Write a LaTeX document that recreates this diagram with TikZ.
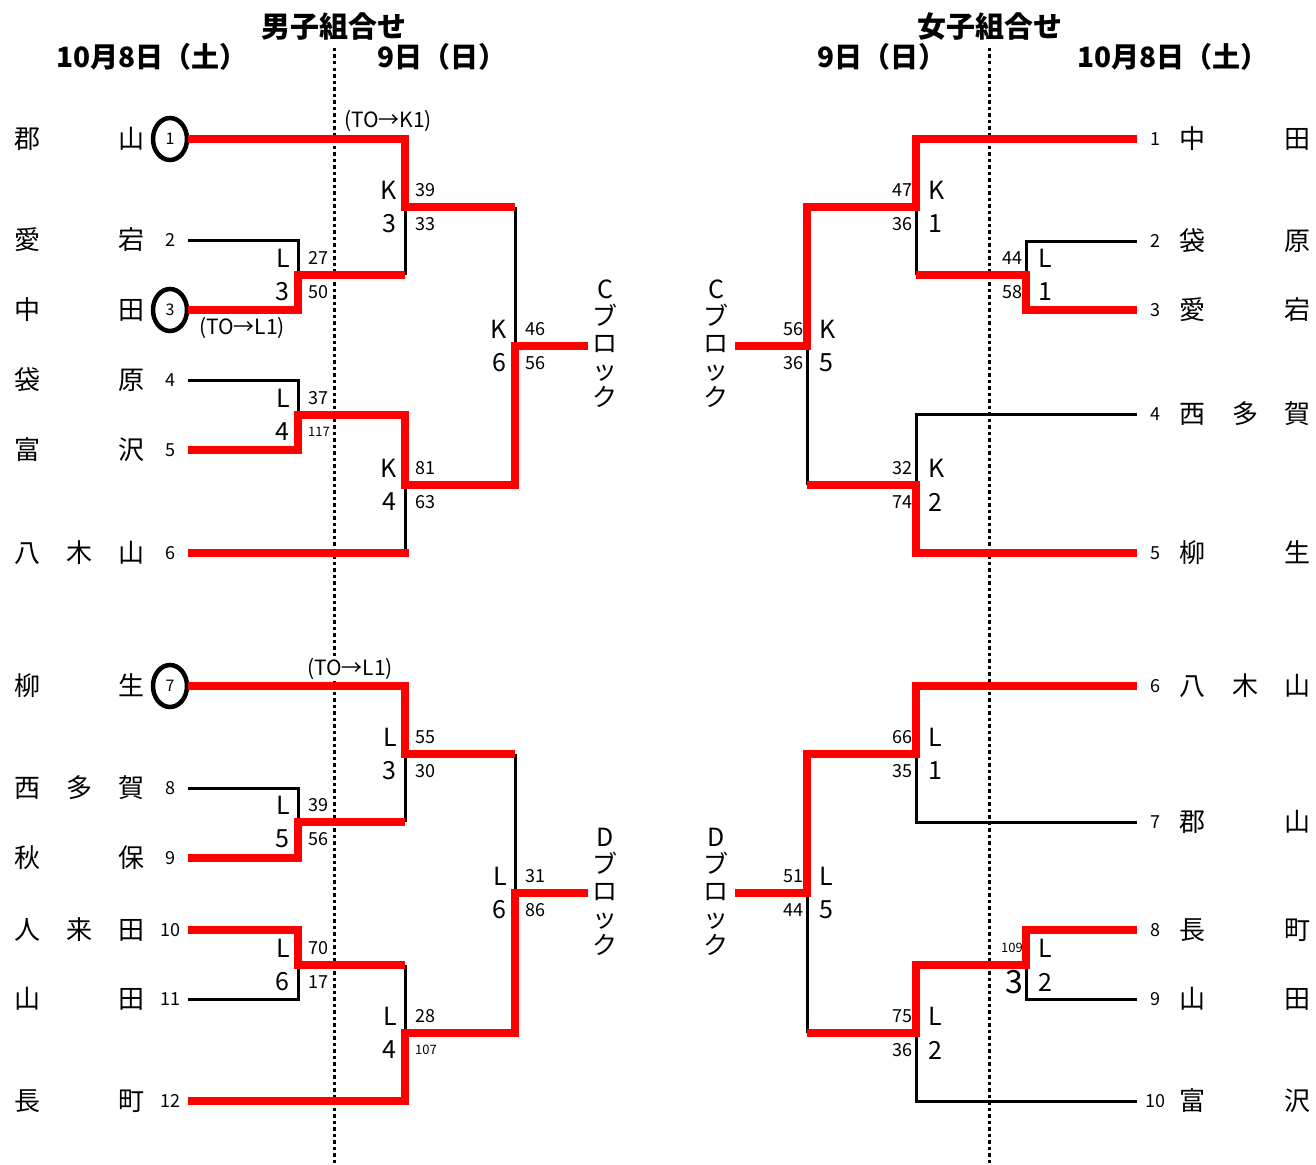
\documentclass[tikz,border=0pt]{standalone}
\usepackage{fontspec}
\setmainfont{Noto Sans CJK JP}
\usetikzlibrary{shapes.geometric}

% labels of one match: boys put letter/number left, scores right
\newcommand{\bmatch}[5]{%
  \node[tag, anchor=east] (#1-t) at ([xshift=-8pt, yshift=17pt]#1) {#2};
  \node[tag, anchor=east] (#1-n) at ([xshift=-8pt, yshift=-17pt]#1) {#3};
  \node[score, anchor=west] (#1-s) at ([xshift=10pt, yshift=17pt]#1) {#4};
  \node[score, anchor=west] (#1-r) at ([xshift=10pt, yshift=-17pt]#1) {#5};}
% girls: scores left, letter/number right
\newcommand{\gmatch}[5]{%
  \node[score, anchor=east] (#1-s) at ([xshift=-3pt, yshift=17pt]#1) {#2};
  \node[score, anchor=east] (#1-r) at ([xshift=-3pt, yshift=-17pt]#1) {#3};
  \node[tag, anchor=west] (#1-t) at ([xshift=12pt, yshift=17pt]#1) {#4};
  \node[tag, anchor=west] (#1-n) at ([xshift=12pt, yshift=-17pt]#1) {#5};}

\begin{document}
\begin{tikzpicture}[
        x=1pt, y=-1pt,
        won/.style={draw=red, line width=7.5pt},
        lost/.style={draw=black, line width=3pt},
        daysep/.style={line width=3pt, dash pattern=on 3.5pt off 3pt},
        team/.style={font=\fontsize{26}{26}\selectfont, inner sep=0pt},
        seed/.style={font=\fontsize{18}{18}\selectfont, inner sep=0pt},
        ring/.style={draw, ellipse, line width=4.5pt, minimum width=34pt,
            minimum height=42pt, font=\fontsize{16}{16}\selectfont},
        noring/.style={},
        tag/.style={font=\fontsize{25}{25}\selectfont, inner sep=0pt},
        score/.style={font=\fontsize{18}{18}\selectfont, inner sep=0pt},
        note/.style={font=\fontsize{21}{21}\selectfont, inner sep=1pt},
        block/.style={font=\fontsize{25}{27}\selectfont, align=center, inner sep=0pt},
        head/.style={font=\bfseries\fontsize{29}{29}\selectfont, inner sep=0pt},
        day/.style={font=\bfseries\fontsize{28}{28}\selectfont, inner sep=0pt},
    ]
    \useasboundingbox (0,0) rectangle (1316,1164);

    % headings
    \node[head] (btitle) at (334,27) {男子組合せ};
    \node[day] (bsat) at (152,57) {10月8日（土）};
    \node[day] (bsun) at (442,57) {9日（日）};
    \node[head] (gtitle) at (990,27) {女子組合せ};
    \node[day] (gsun) at (882,57) {9日（日）};
    \node[day] (gsat) at (1173,57) {10月8日（土）};

    \draw[daysep] (334,48) -- (334,1164);
    \draw[daysep] (989,48) -- (989,1164);

    % boys teams
    \foreach \y/\a/\n/\s in {139/郡\hfill 山/1/ring, 240/愛\hfill 宕/2/noring,
        310/中\hfill 田/3/ring, 380/袋\hfill 原/4/noring, 450/富\hfill 沢/5/noring,
        553/八\hfill 木\hfill 山/6/noring, 686/柳\hfill 生/7/ring,
        788/西\hfill 多\hfill 賀/8/noring, 858/秋\hfill 保/9/noring,
        930/人\hfill 来\hfill 田/10/noring, 999/山\hfill 田/11/noring,
        1101/長\hfill 町/12/noring}
    {
        \node[team] (bn\n) at (79,\y) {\makebox[130pt]{\a}};
        \node[seed,\s] (bs\n) at (170,\y) {\n};
        \coordinate (b\n) at (188,\y);
    }

    % girls teams
    \foreach \y/\a/\n in {139/中\hfill 田/1, 241/袋\hfill 原/2, 310/愛\hfill 宕/3,
        414/西\hfill 多\hfill 賀/4, 553/柳\hfill 生/5, 686/八\hfill 木\hfill 山/6,
        822/郡\hfill 山/7, 930/長\hfill 町/8, 999/山\hfill 田/9, 1101/富\hfill 沢/10}
    {
        \node[team] (gn\n) at (1245,\y) {\makebox[131pt]{\a}};
        \node[seed] (gs\n) at (1155,\y) {\n};
        \coordinate (g\n) at (1137,\y);
    }

    % boys matches
    \coordinate (ba1) at (298,275);
    \coordinate (ba2) at (298,415);
    \coordinate (bb1) at (405,207);
    \coordinate (bb2) at (405,485);
    \coordinate (bc1) at (515,346);
    \coordinate (bendC) at (588,346);
    \coordinate (ba3) at (298,822);
    \coordinate (ba4) at (298,965);
    \coordinate (bb3) at (405,754);
    \coordinate (bb4) at (405,1033);
    \coordinate (bc2) at (515,893);
    \coordinate (bendD) at (588,893);

    \draw[lost] (b2) -| (ba1);
    \draw[lost] (b4) -| (ba2);
    \draw[lost] (ba1 -| bb1) -- (bb1);
    \draw[lost] (b6 -| bb2) -- (bb2);
    \draw[lost] (bb1 -| bc1) -- (bc1);
    \draw[won] (b1) -| (bb1) -- (bb1 -| bc1);
    \draw[won] (b3) -| (ba1) -- (ba1 -| bb1);
    \draw[won] (b5) -| (ba2) -- (ba2 -| bb2) -- (bb2) -- (bb2 -| bc1) -- (bc1) -- (bendC);
    \draw[won] (b6) -- ([xshift=4pt]b6 -| bb2);

    \draw[lost] (b8) -| (ba3);
    \draw[lost] (ba3 -| bb3) -- (bb3);
    \draw[lost] (b11) -| (ba4);
    \draw[lost] (ba4 -| bb4) -- (bb4);
    \draw[lost] (bb3 -| bc2) -- (bc2);
    \draw[won] (b7) -| (bb3) -- (bb3 -| bc2);
    \draw[won] (b9) -| (ba3) -- (ba3 -| bb3);
    \draw[won] (b10) -| (ba4) -- (ba4 -| bb4);
    \draw[won] (b12) -| (bb4) -- (bb4 -| bc2) -- (bc2) -- (bendD);

    \bmatch{ba1}{L}{3}{27}{50}
    \bmatch{ba2}{L}{4}{37}{\fontsize{13}{13}\selectfont 117}
    \bmatch{bb1}{K}{3}{39}{33}
    \bmatch{bb2}{K}{4}{81}{63}
    \bmatch{bc1}{K}{6}{46}{56}
    \bmatch{ba3}{L}{5}{39}{56}
    \bmatch{ba4}{L}{6}{70}{17}
    \bmatch{bb3}{L}{3}{55}{30}
    \bmatch{bb4}{L}{4}{28}{\fontsize{13}{13}\selectfont 107}
    \bmatch{bc2}{L}{6}{31}{86}

    \node[note] (bto1) at (388,121) {(TO→K1)};
    \node[note] (bto3) at (242,328) {(TO→L1)};
    \node[note, fill=white] (bto7) at (350,669) {(TO→L1)};

    \node[block] (bblockC) at (605,344) {C\\ブ\\ロ\\ッ\\ク};
    \node[block] (bblockD) at (605,892) {D\\ブ\\ロ\\ッ\\ク};

    % girls matches
    \coordinate (ga1) at (1026,275);
    \coordinate (gb1) at (916,207);
    \coordinate (gb2) at (916,485);
    \coordinate (gc1) at (807,346);
    \coordinate (gendC) at (735,346);
    \coordinate (gb3) at (916,754);
    \coordinate (ga2) at (1026,965);
    \coordinate (gb4) at (916,1033);
    \coordinate (gc2) at (807,893);
    \coordinate (gendD) at (735,893);

    \draw[lost] (g2) -| (ga1);
    \draw[lost] (ga1 -| gb1) -- (gb1);
    \draw[lost] (g4) -| (gb2);
    \draw[lost] (gb2 -| gc1) -- (gc1);
    \draw[won] (g1) -| (gb1) -- (gb1 -| gc1) -- (gc1) -- (gendC);
    \draw[won] (g3) -| (ga1) -- (ga1 -| gb1);
    \draw[won] (g5) -| (gb2) -- (gb2 -| gc1);

    \draw[lost] (g7) -| (gb3);
    \draw[lost] (g9) -| (ga2);
    \draw[lost] (g10) -| (gb4);
    \draw[lost] (gb4 -| gc2) -- (gc2);
    \draw[won] (g6) -| (gb3) -- (gb3 -| gc2) -- (gc2) -- (gendD);
    \draw[won] (g8) -| (ga2) -- (ga2 -| gb4) -- (gb4) -- (gb4 -| gc2);

    \gmatch{ga1}{44}{58}{L}{1}
    \gmatch{gb1}{47}{36}{K}{1}
    \gmatch{gb2}{32}{74}{K}{2}
    \gmatch{gc1}{56}{36}{K}{5}
    \gmatch{gb3}{66}{35}{L}{1}
    \gmatch{ga2}{\fontsize{13}{13}\selectfont 109}{\fontsize{32}{32}\selectfont 3}{L}{2}
    \gmatch{gb4}{75}{36}{L}{2}
    \gmatch{gc2}{51}{44}{L}{5}

    \node[block] (gblockC) at (716,344) {C\\ブ\\ロ\\ッ\\ク};
    \node[block] (gblockD) at (716,892) {D\\ブ\\ロ\\ッ\\ク};

\end{tikzpicture}
\end{document}
